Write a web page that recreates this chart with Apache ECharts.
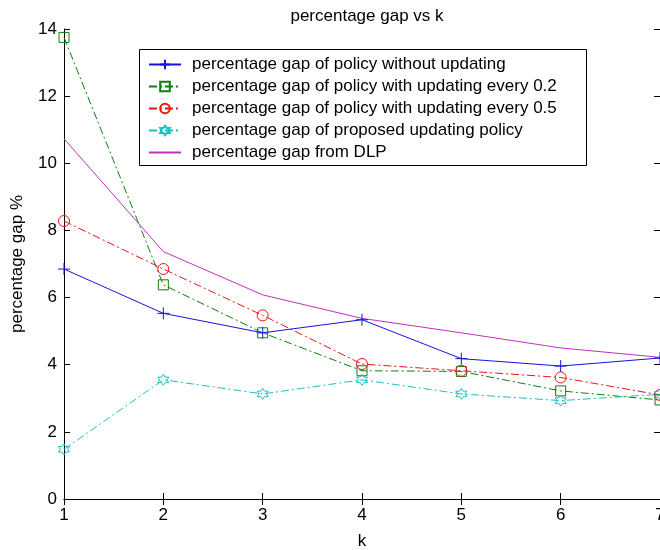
<!DOCTYPE html>
<html>
<head>
<meta charset="utf-8">
<script src="https://cdn.jsdelivr.net/npm/echarts@6/dist/echarts.min.js"></script>
<style>html,body{margin:0;padding:0;background:#fff;}#c{width:660px;height:550px;}</style>
</head>
<body>
<div id="c"></div>
<script>
var k = [1, 2, 3, 4, 5, 6, 7];
var noUpdate = [6.85, 5.53, 4.95, 5.34, 4.18, 3.96, 4.2];
var upd02 = [13.75, 6.38, 4.95, 3.82, 3.8, 3.22, 2.95];
var upd05 = [8.28, 6.85, 5.47, 4.02, 3.82, 3.62, 3.1];
var proposed = [1.48, 3.55, 3.13, 3.55, 3.13, 2.93, 3.12];
var dlp = [10.73, 7.37, 6.08, 5.38, 4.95, 4.5, 4.22];
var names = [
  'percentage gap of policy without updating',
  'percentage gap of policy with updating every 0.2',
  'percentage gap of policy with updating every 0.5',
  'percentage gap of proposed updating policy',
  'percentage gap from DLP'
];
var yTicks = [0, 2, 4, 6, 8, 10, 12, 14];

function pairs(vals) { return k.map(function (x, i) { return [x, vals[i]]; }); }

var plusPath = 'path://M0,6L12,6M6,0L6,12';
var hex = (function () {
  var pts = [];
  for (var i = 0; i < 12; i++) {
    var a = Math.PI / 2 + i * Math.PI / 6;
    var r = (i % 2 === 0) ? 10 : 5.77;
    pts.push((10 + r * Math.cos(a)).toFixed(2) + ',' + (10 - r * Math.sin(a)).toFixed(2));
  }
  return 'path://M' + pts.join('L') + 'Z';
})();

var font = 'Liberation Sans, Arial, sans-serif';
var dashDot = [8, 3, 2, 3];

function mk(name, vals, color, symbol, size, dash) {
  return {
    name: name, type: 'line', data: pairs(vals),
    symbol: symbol, symbolSize: size, showSymbol: symbol !== 'none',
    lineStyle: { color: color, width: 1, type: dash },
    itemStyle: { color: 'rgba(0,0,0,0)', borderColor: color, borderWidth: 1 },
    color: color,
    silent: true
  };
}

var chart = echarts.init(document.getElementById('c'), null, { renderer: 'canvas' });
chart.setOption({
  animation: false,
  backgroundColor: '#fff',
  title: {
    text: 'percentage gap vs k', left: 362, top: 3, textAlign: 'center',
    textStyle: { fontFamily: font, fontSize: 17, fontWeight: 'normal', color: '#000' }
  },
  grid: { left: 64, right: 0, top: 29, bottom: 51, outerBoundsMode: 'none', containLabel: false },
  legend: {
    orient: 'vertical', left: 139, top: 49,
    padding: [7, 9, 7, 9], itemWidth: 32, itemHeight: 12, itemGap: 5,
    data: [
      { name: names[0] },
      { name: names[1] },
      { name: names[2] },
      { name: names[3] },
      { name: names[4], itemStyle: { opacity: 0 } }
    ],
    textStyle: { fontFamily: font, fontSize: 17, color: '#000', padding: [0, 0, 0, 6] },
    selectedMode: false
  },
  graphic: [{
    type: 'rect', shape: { x: 139.5, y: 49.5, width: 447, height: 116 },
    style: { fill: 'none', stroke: '#000', lineWidth: 1 }, z: 100
  }],
  xAxis: [{
    type: 'value', min: 1, max: 7, interval: 1,
    name: 'k', nameLocation: 'middle', nameGap: 34,
    nameTextStyle: { fontFamily: font, fontSize: 17, color: '#000' },
    axisLine: { lineStyle: { color: '#000' } },
    axisTick: { inside: true, length: 6, lineStyle: { color: '#000' } },
    axisLabel: { fontFamily: font, fontSize: 17, color: '#000', margin: 8 },
    splitLine: { show: false }
  }, {
    type: 'value', min: 1, max: 7, interval: 1, position: 'top',
    axisLine: { lineStyle: { color: '#000' } },
    axisTick: { inside: true, length: 6, lineStyle: { color: '#000' } },
    axisLabel: { show: false }, splitLine: { show: false }
  }],
  yAxis: [{
    type: 'value', min: 0, max: 14, interval: 2,
    name: 'percentage gap %', nameLocation: 'middle', nameGap: 38,
    nameTextStyle: { fontFamily: font, fontSize: 17, color: '#000' },
    axisLine: { show: true, lineStyle: { color: '#000' } },
    axisTick: { show: true, inside: true, length: 6, lineStyle: { color: '#000' } },
    axisLabel: { fontFamily: font, fontSize: 17, color: '#000', margin: 7,
      formatter: function (v) { return yTicks.indexOf(v) >= 0 ? String(v) : ''; } },
    splitLine: { show: false }
  }, {
    type: 'value', min: 0, max: 14, interval: 2, position: 'right',
    axisLine: { show: true, lineStyle: { color: '#000' } },
    axisTick: { show: true, inside: true, length: 6, lineStyle: { color: '#000' } },
    axisLabel: { show: false }, splitLine: { show: false }
  }],
  series: [
    mk(names[0], noUpdate, '#1414dc', plusPath, 12, 'solid'),
    mk(names[1], upd02, '#0c800c', 'rect', 10, dashDot),
    mk(names[2], upd05, '#ec1414', 'circle', 11, dashDot),
    mk(names[3], proposed, '#1cc0c0', hex, 11, dashDot),
    mk(names[4], dlp, '#c030c0', 'none', 0, 'solid')
  ]
});
</script>
</body>
</html>
